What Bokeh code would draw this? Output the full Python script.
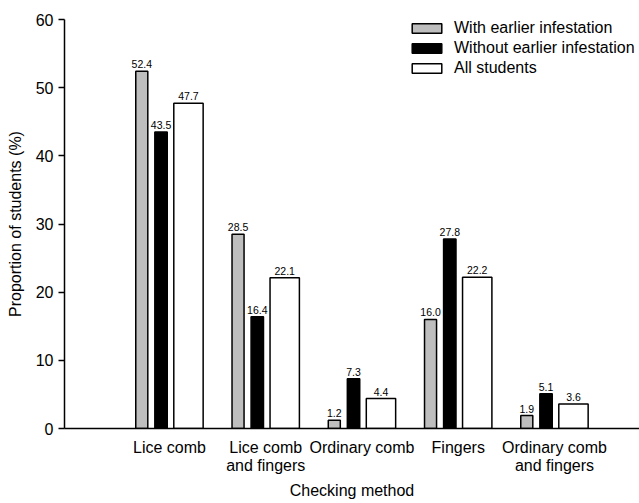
from bokeh.plotting import figure
from bokeh.models import ColumnDataSource, Range1d, FixedTicker, Legend, LegendItem
from bokeh.transform import dodge
from bokeh.embed import file_html
from bokeh.resources import INLINE
from bokeh.core.properties import value

# ---- data ----
methods = ["Lice comb", "Lice comb\nand fingers", "Ordinary comb", "Fingers", "Ordinary comb\nand fingers"]
with_earlier = [52.4, 28.5, 1.2, 16.0, 1.9]
without_earlier = [43.5, 16.4, 7.3, 27.8, 5.1]
all_students = [47.7, 22.1, 4.4, 22.2, 3.6]
series_names = ["With earlier infestation", "Without earlier infestation", "All students"]
y_ticks = [0, 10, 20, 30, 40, 50, 60]
x_title = "Checking method"
y_title = "Proportion of students (%)"

FONT = "Liberation Sans"

idx = list(range(len(methods)))
src = ColumnDataSource(dict(
    idx=idx,
    w=with_earlier, wo=without_earlier, a=all_students,
    w_l=[f"{v:.1f}" for v in with_earlier],
    wo_l=[f"{v:.1f}" for v in without_earlier],
    a_l=[f"{v:.1f}" for v in all_students],
))

p = figure(width=639, height=502,
           x_range=Range1d(-1.091, 4.883), y_range=Range1d(0, 60),
           output_backend="svg", toolbar_location=None,
           min_border_left=64, min_border_right=0,
           min_border_top=19, min_border_bottom=68)
p.outline_line_color = None
p.grid.visible = False
p.background_fill_color = "white"

specs = [
    ("w", "w_l", -0.288, 0.125, "#bebebe"),
    ("wo", "wo_l", -0.088, 0.129, "#000000"),
    ("a", "a_l", 0.197, 0.305, "#ffffff"),
]
renderers = []
for col, lbl, off, wdt, color in specs:
    r = p.vbar(x=dodge("idx", off, range=p.x_range), top=col, width=wdt, bottom=0,
               source=src, fill_color=color, line_color="#000000", line_width=1.5)
    renderers.append(r)
    p.text(x=dodge("idx", off, range=p.x_range), y=col, text=lbl, source=src,
           text_align="center", text_baseline="bottom", y_offset=-3,
           text_font=value(FONT), text_font_size="10.5px", text_color="#000000")

# axes
xa = p.xaxis[0]
xa.ticker = FixedTicker(ticks=idx)
xa.major_label_overrides = {i: m for i, m in zip(idx, methods)}
xa.major_tick_out = 0
xa.major_tick_in = 0
xa.minor_tick_line_color = None
xa.major_label_standoff = 10
xa.major_label_text_line_height = 1.1
xa.axis_label = x_title
xa.axis_label_standoff = 5
xa.axis_label_text_line_height = 1.1
ya = p.yaxis[0]
ya.ticker = FixedTicker(ticks=y_ticks)
ya.major_tick_out = 6
ya.major_tick_in = 0
ya.minor_tick_line_color = None
ya.major_label_standoff = 5
ya.axis_label = y_title
ya.axis_label_standoff = 9
for ax in (xa, ya):
    ax.axis_line_width = 1.5
    ax.axis_line_color = "#000000"
    ax.major_tick_line_width = 1.5
    ax.major_tick_line_color = "#000000"
    ax.major_label_text_font = FONT
    ax.major_label_text_font_size = "16px"
    ax.major_label_text_color = "#000000"
    ax.axis_label_text_font = FONT
    ax.axis_label_text_font_size = "16px"
    ax.axis_label_text_font_style = "normal"
    ax.axis_label_text_color = "#000000"

legend = Legend(items=[LegendItem(label=n, renderers=[r]) for n, r in zip(series_names, renderers)],
                location=(344, 351), padding=0, margin=0,
                border_line_color=None, background_fill_alpha=0,
                glyph_width=37, glyph_height=12, label_height=18, spacing=2,
                label_standoff=9, label_text_font=FONT, label_text_font_size="16px",
                label_text_color="#000000")
p.add_layout(legend)

open("out.html", "w").write(file_html(p, INLINE))
